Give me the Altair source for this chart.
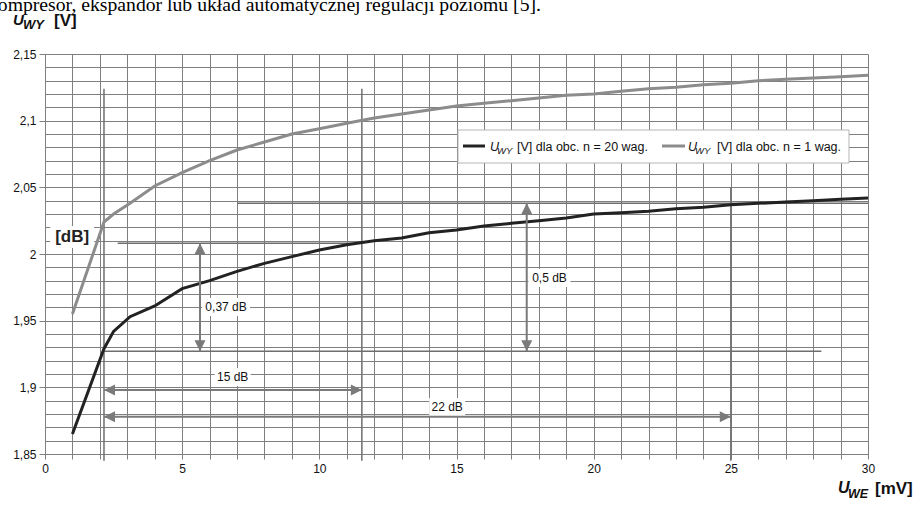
import altair as alt
import pandas as pd

# ---- measured curves ----
x_mv = [1, 2.15, 2.5, 3.1, 4, 5, 6, 7, 8, 9, 10, 11, 12, 13, 14, 15, 16, 17, 18, 19,
        20, 21, 22, 23, 24, 25, 26, 27, 28, 29, 30]
u_n20 = [1.865, 1.929, 1.942, 1.953, 1.961, 1.974, 1.980, 1.987, 1.993, 1.998, 2.003,
         2.007, 2.010, 2.012, 2.016, 2.018, 2.021, 2.023, 2.025, 2.027, 2.030, 2.031,
         2.032, 2.034, 2.035, 2.037, 2.038, 2.039, 2.040, 2.041, 2.042]
u_n1 = [1.955, 2.024, 2.030, 2.038, 2.051, 2.061, 2.070, 2.078, 2.084, 2.090, 2.094,
        2.098, 2.102, 2.105, 2.108, 2.111, 2.113, 2.115, 2.117, 2.119, 2.120, 2.122,
        2.124, 2.125, 2.127, 2.128, 2.130, 2.131, 2.132, 2.133, 2.134]

# ---- axis ticks ----
x_ticks = list(range(0, 31))
y_ticks = [round(1.85 + 0.01 * i, 2) for i in range(31)]

# ---- annotation geometry (data units) ----
vguide_x = [2.15, 11.55, 25]
vguide_top = [2.124, 2.124, 2.05]
vguide_bottom = [1.845, 1.845, 1.845]
hguide_y = [2.038, 2.008, 1.927]
hguide_x1 = [7, 2.65, 2.15]
hguide_x2 = [30, 11.55, 28.3]

varrow_x = [5.65, 17.56]
varrow_top = [2.008, 2.038]
varrow_bottom = [1.927, 1.927]
harrow_y = [1.898, 1.878]
harrow_left = [2.15, 2.15]
harrow_right = [11.55, 25]

lab_text = ["0,37 dB", "0,5 dB", "15 dB", "22 dB"]
lab_x = [6.6, 18.39, 6.84, 14.66]
lab_y = [1.9603, 1.982, 1.9077, 1.8853]
lab_w = [48, 42, 36, 36]

db_text = "[dB]"
db_x = 0.99
db_y = 2.0128

FONT = "Liberation Sans"
GRID = "#7f7f7f"
ANN = "#6e6e6e"

xs = alt.Scale(domain=[0, 30], nice=False, zero=False)
ys = alt.Scale(domain=[1.85, 2.15], nice=False, zero=False)

x_axis = alt.Axis(
    values=x_ticks, grid=True, gridColor=GRID, gridWidth=1, gridOpacity=1,
    tickColor=GRID, tickSize=5, domainColor=GRID, labelFont=FONT, labelFontSize=12,
    labelColor="#111", labelPadding=4, labelFlush=False, labelOverlap=False,
    labelExpr="datum.value % 5 == 0 ? datum.label : ''", title=None,
)
y_axis = alt.Axis(
    values=y_ticks, grid=True, gridColor=GRID, gridWidth=1, gridOpacity=1,
    tickColor={"condition": {"test": "round(datum.value*100) % 5 == 0", "value": GRID},
               "value": "transparent"},
    tickSize=6, domainColor=GRID, labelFont=FONT, labelFontSize=12, labelColor="#111",
    labelPadding=3, labelFlush=False, labelOverlap=False,
    labelExpr="round(datum.value*100) % 5 == 0 ? replace(format(datum.value, '.2~f'), '.', ',') : ''",
    title=None,
)


def X(f):
    return alt.X(f, type="quantitative", scale=xs, axis=x_axis)


def Y(f):
    return alt.Y(f, type="quantitative", scale=ys, axis=y_axis)


curves = pd.DataFrame({"x": x_mv, "n20": u_n20, "n1": u_n1})

vg = pd.DataFrame({"x": vguide_x, "y1": vguide_top, "y2": vguide_bottom})
vguides = alt.Chart(vg).mark_rule(color=ANN, strokeWidth=1.5).encode(
    x=X("x"), y=Y("y1"), y2="y2")
hg = pd.DataFrame({"y": hguide_y, "x1": hguide_x1, "x2": hguide_x2})
hguides = alt.Chart(hg).mark_rule(color=ANN, strokeWidth=1.5).encode(
    y=Y("y"), x=X("x1"), x2="x2")

line20 = alt.Chart(curves).mark_line(color="#222222", strokeWidth=3).encode(
    x=X("x"), y=Y("n20"))
line1 = alt.Chart(curves).mark_line(color="#8c8c8c", strokeWidth=3).encode(
    x=X("x"), y=Y("n1"))

va = pd.DataFrame({"x": varrow_x, "y1": varrow_top, "y2": varrow_bottom})
ha = pd.DataFrame({"y": harrow_y, "x1": harrow_left, "x2": harrow_right})
vshaft = alt.Chart(va).mark_rule(color="#7a7a7a", strokeWidth=2).encode(
    x=X("x"), y=Y("y1"), y2="y2")
hshaft = alt.Chart(ha).mark_rule(color="#7a7a7a", strokeWidth=2).encode(
    y=Y("y"), x=X("x1"), x2="x2")

UP = "M0,0L-0.5,1L0.5,1Z"
DOWN = "M0,0L-0.5,-1L0.5,-1Z"
LEFT = "M0,0L1,-0.5L1,0.5Z"
RIGHT = "M0,0L-1,-0.5L-1,0.5Z"
HS = 484


def head(df, xf, yf, shape):
    return alt.Chart(df).mark_point(shape=shape, filled=True, color="#7a7a7a",
                                    size=HS, opacity=1, strokeWidth=0).encode(
        x=X(xf), y=Y(yf))


heads = [head(va, "x", "y1", UP), head(va, "x", "y2", DOWN),
         head(ha, "x1", "y", LEFT), head(ha, "x2", "y", RIGHT)]

label_layers = []
for t, lx, ly, w in zip(lab_text, lab_x, lab_y, lab_w):
    d = pd.DataFrame({"x": [lx], "y": [ly], "t": [t]})
    label_layers.append(
        alt.Chart(d).mark_rect(color="white", xOffset=-w / 2, x2Offset=w / 2,
                               yOffset=-9, y2Offset=9).encode(
            x=X("x"), x2="x", y=Y("y"), y2="y"))
labs = pd.DataFrame({"x": lab_x, "y": lab_y, "t": lab_text})
label_text = alt.Chart(labs).mark_text(font=FONT, fontSize=12, color="#111",
                                       baseline="middle").encode(
    x=X("x"), y=Y("y"), text="t")

dbd = pd.DataFrame({"x": [db_x], "y": [db_y], "t": [db_text]})
db_box = alt.Chart(dbd).mark_rect(color="white", xOffset=-22, x2Offset=22,
                                  yOffset=-11, y2Offset=11).encode(
    x=X("x"), x2="x", y=Y("y"), y2="y")
db_lab = alt.Chart(dbd).mark_text(font=FONT, fontSize=17, fontWeight="bold",
                                  color="#222", baseline="middle").encode(
    x=X("x"), y=Y("y"), text="t")

# ---- legend & titles (pixel positions relative to plot origin) ----
one = pd.DataFrame({"a": [0]})


def ptext(txt, x, y, size, weight="normal", style="normal", align="left",
          font=FONT, color="#111"):
    return alt.Chart(one).mark_text(text=txt, font=font, fontSize=size,
                                    fontWeight=weight, fontStyle=style, align=align,
                                    baseline="alphabetic", color=color).encode(
        x=alt.value(x), y=alt.value(y))


legend_box = alt.Chart(one).mark_rect(fill="white", stroke="#b5b5b5",
                                      strokeWidth=1).encode(
    x=alt.value(413), x2=alt.value(804), y=alt.value(76), y2=alt.value(109))
leg_l1 = alt.Chart(one).mark_rule(color="#222222", strokeWidth=3).encode(
    x=alt.value(418), x2=alt.value(440), y=alt.value(92))
leg_l2 = alt.Chart(one).mark_rule(color="#8c8c8c", strokeWidth=3).encode(
    x=alt.value(617), x2=alt.value(640), y=alt.value(92))
leg_txt = [
    ptext("U", 445, 96.5, 12.5, style="italic"),
    ptext("WY", 452, 99.5, 9.5, style="italic"),
    ptext("[V] dla obc. n = 20 wag.", 472, 96.5, 12.5),
    ptext("U", 643, 96.5, 12.5, style="italic"),
    ptext("WY", 650, 99.5, 9.5, style="italic"),
    ptext("[V] dla obc. n = 1 wag.", 672, 96.5, 12.5),
]

titles = [
    ptext("kompresor, ekspandor lub układ automatycznej regulacji poziomu [5].",
          496, -43, 19.7, align="right", font="Liberation Serif", color="#000"),
    ptext("U", -32, -29.5, 15, weight="bold", style="italic"),
    ptext("WY", -22, -25, 13, weight="bold", style="italic"),
    ptext("[V]", 9, -28.5, 17, weight="bold"),
    ptext("U", 793, 439, 16, weight="bold", style="italic"),
    ptext("WE", 803, 444, 12.5, weight="bold", style="italic"),
    ptext("[mV]", 830, 440, 17, weight="bold"),
]

chart = alt.layer(
    vguides, hguides, *label_layers, db_box, line1, line20,
    vshaft, hshaft, *heads, label_text, db_lab,
    legend_box, leg_l1, leg_l2, *leg_txt, *titles,
).properties(
    width=823, height=400,
    autosize=alt.AutoSizeParams(type="none"),
    padding={"left": 45, "top": 54, "right": 52, "bottom": 52},
    background="white",
).configure_view(stroke=None)

chart.save("out.html", embed_options={"renderer": "svg", "actions": False})
